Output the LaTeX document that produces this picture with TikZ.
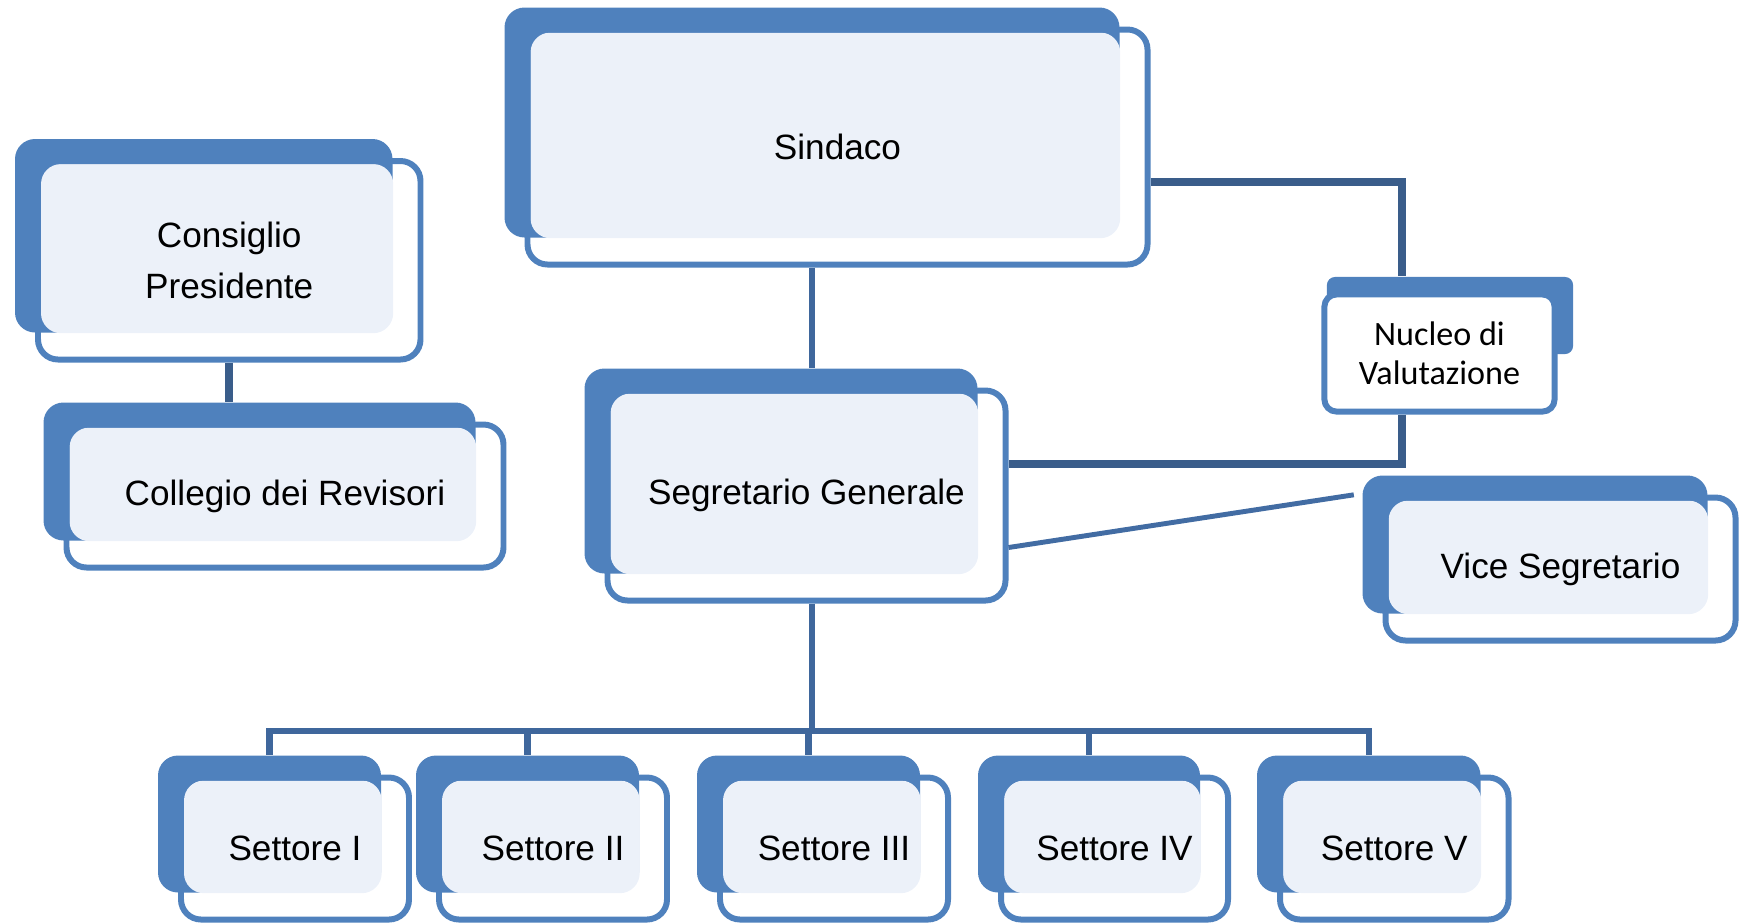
\documentclass[tikz,border=0pt]{standalone}
\usepackage{fontspec}
\setmainfont{Liberation Sans}
\newfontfamily\carlito{Carlito}
\usepackage{tikz}
\usetikzlibrary{calc}
\definecolor{blu}{HTML}{4F81BD}
\definecolor{chiaro}{HTML}{ECF1F9}
\definecolor{filo}{HTML}{3F679C}
\definecolor{filoscuro}{HTML}{3A5D8A}
\def\casella(#1)(#2,#3)(#4,#5)#6{%
	\node[retro, minimum width={(#4-#2-5)*0.01cm}, minimum height={(#5-#3-5)*0.01cm}] (#1-d) at ({(#2+#4)/2-25.5},{(#3+#5)/2-24.5}) {};
	\fill[pannello] (#2+3,#3+3) rectangle (#1-d.south east);
	\node[fronte, minimum width={(#4-#2)*0.01cm}, minimum height={(#5-#3)*0.01cm}] (#1) at ({(#2+#4)/2},{(#3+#5)/2}) {#6};
}

\begin{document}
\begin{tikzpicture}[x=0.01cm, y=-0.01cm,
		retro/.style={fill=blu, rounded corners=0.2cm, inner sep=0pt},
		pannello/.style={fill=chiaro, rounded corners=0.2cm},
		fronte/.style={draw=blu, line width=1.7pt, rounded corners=0.2cm, inner sep=0pt, align=center, font=\fontsize{10}{14.5}\selectfont},
		linea/.style={draw=filo, line width=1.8pt},
		linea scura/.style={draw=filoscuro, line width=2.2pt},
		linea sottile/.style={draw=filo!80!blu, line width=1.4pt}]
			%%%%% START %%%%%
			
			\useasboundingbox (0,0) rectangle (1742,923);
			
			\casella(cons)(38,161)(420.5,359.5){Consiglio\\Presidente}
			\casella(coll)(66.5,424.5)(503.5,567.5){Collegio dei Revisori}
			
			\casella(sind)(527.5,29.5)(1147.5,264.5){Sindaco}
			\casella(segr)(607.5,390.5)(1005.5,600.5){Segretario Generale}
			\casella(vice)(1385.5,497.5)(1735.5,640.5){Vice Segretario}
			
			\node[retro, rounded corners=0.08cm, minimum width=2.46cm, minimum height=0.77cm] (nucl-d) at (1450,315.5) {};
			\node[fronte, fill=white, rounded corners=0.12cm, minimum width=2.3cm, minimum height=1.17cm, font=\carlito\fontsize{9.7}{11.1}\selectfont] (nucl) at (1439.5,353) {Nucleo di\\Valutazione};
			
			\casella(set1)(181,777.5)(409,919.5){Settore I}
			\casella(set2)(439,777.5)(667,919.5){Settore II}
			\casella(set3)(720,777.5)(948,919.5){Settore III}
			\casella(set4)(1001,777.5)(1228,919.5){Settore IV}
			\casella(set5)(1280,777.5)(1508.5,919.5){Settore V}
			
			\coordinate (asse) at (812,0);
			\coordinate (bus) at (0,731);
			\coordinate (gomito1) at (1402,182);
			\coordinate (gomito2) at (1402,464);
			
			\draw[linea scura] (cons.south) -- (cons.south |- coll-d.north);
			
			\draw[linea] (sind.south -| asse) -- (segr-d.north -| asse);
			\draw[linea] (segr.south -| asse) -- (asse |- bus);
			\draw[linea] (set1-d.north) -- (set1-d.north |- bus) -- (set5-d.north |- bus) -- (set5-d.north);
			\foreach \s in {2,3,4}
				\draw[linea] (set\s-d.north |- bus) -- (set\s-d.north);
			
			\draw[linea scura] (sind.east |- gomito1) -- (gomito1) -- (gomito1 |- nucl-d.north);
			\draw[linea scura] (nucl.south -| gomito2) -- (gomito2) -- (gomito2 -| segr.east);
			\draw[linea sottile] ($(segr.east)+(0,52)$) -- ($(vice-d.north west)+(-8,20)$);
			
			%%%%% END %%%%%
\end{tikzpicture}
\end{document}
